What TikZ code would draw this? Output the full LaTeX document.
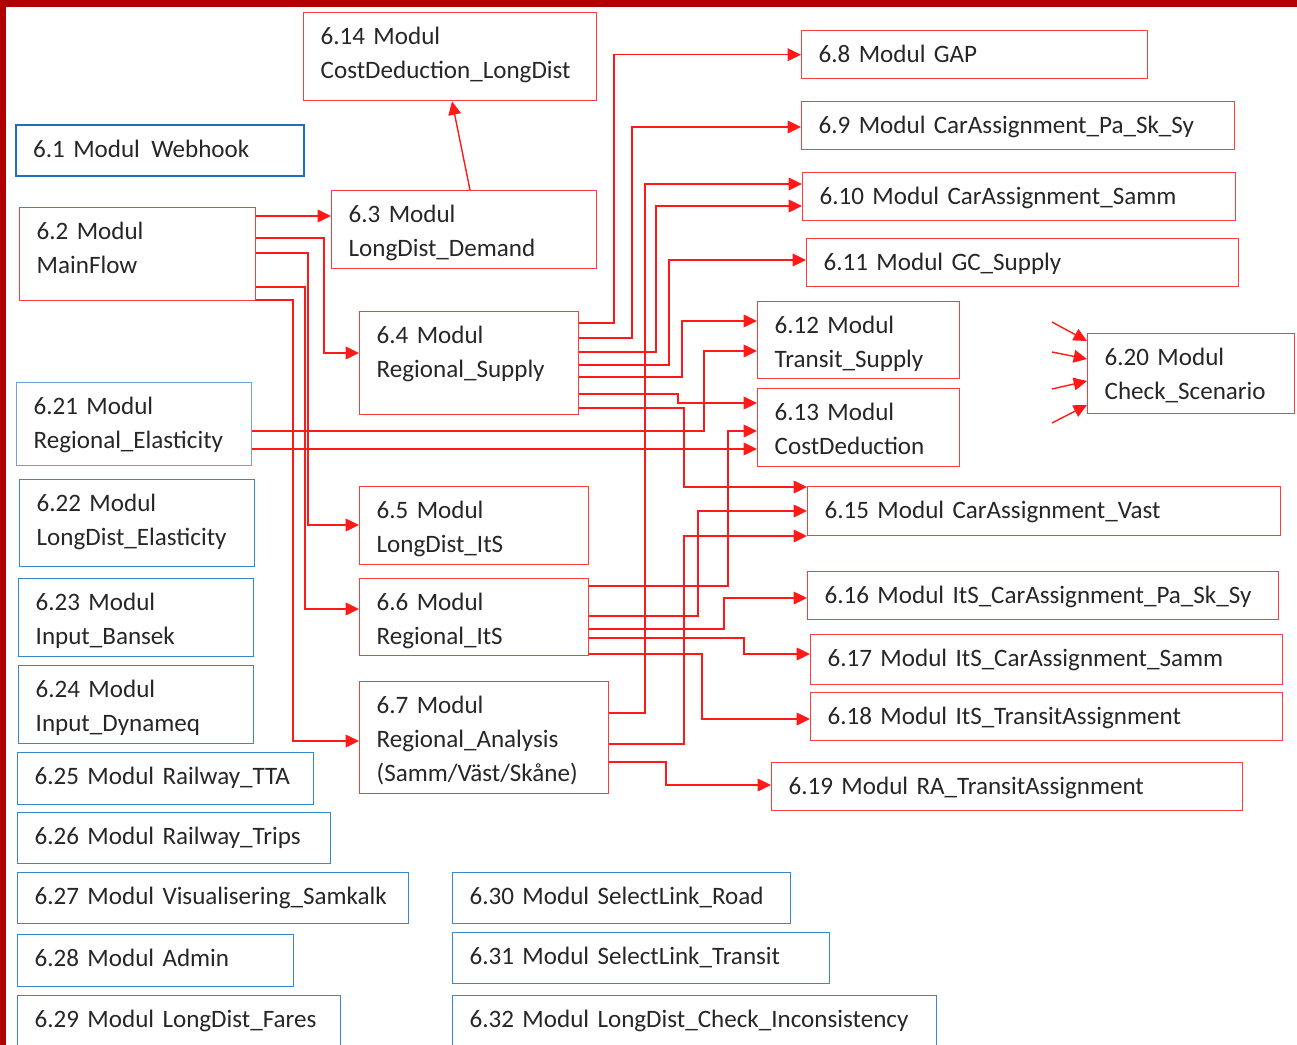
\documentclass[tikz,border=0pt]{standalone}
\usepackage{fontspec}
\setmainfont{Carlito}
\usetikzlibrary{arrows.meta}
\definecolor{frameRed}{RGB}{176,0,0}
\definecolor{boxRed}{RGB}{255,60,60}
\definecolor{lineRed}{RGB}{255,25,25}
\definecolor{boxBlue}{RGB}{30,112,190}
\definecolor{boxBlueMid}{RGB}{55,135,205}
\definecolor{boxBlueLight}{RGB}{105,165,218}
\definecolor{modText}{RGB}{38,38,38}

\begin{document}
\begin{tikzpicture}[x=0.75pt,y=0.75pt,yscale=-1,xscale=1,
	modul/.style={anchor=north west, inner xsep=12.75pt, inner ysep=0pt, text height=24pt, align=left, text=modText, font=\fontsize{18.8}{25.5}\selectfont, line width=1.05pt},
	redbox/.style={modul, draw=boxRed},
	bluebox/.style={modul, draw=boxBlueMid},
	conn/.style={draw=lineRed, line width=1.05pt, -{Triangle[length=10pt,width=9.5pt]}}]
	\clip (0,0) rectangle (1297,1045);
	\fill [frameRed] (0,0) rectangle (1297,7);
	\fill [frameRed] (0,0) rectangle (6,1045);

	% Text Node
	\node [redbox, text width=194.25pt, text depth=42pt] (n614) at (303,12) {6.14 Modul\\CostDeduction\_LongDist};
	% Text Node
	\node [modul, draw=boxBlue, line width=1.8pt, text width=190.5pt, text depth=14.25pt] (n61) at (15,124) {6.1~Modul\hspace{0.45em}Webhook};
	% Text Node
	\node [redbox, text width=151.5pt, text depth=45.75pt] (n62) at (19,207) {6.2 Modul\\MainFlow};
	% Text Node
	\node [redbox, text width=173.25pt, text depth=34.5pt] (n63) at (331,190) {6.3 Modul\\LongDist\_Demand};
	% Text Node
	\node [redbox, text width=138.75pt, text depth=53.25pt] (n64) at (359,311) {6.4 Modul\\Regional\_Supply};
	% Text Node
	\node [redbox, text width=146.25pt, text depth=34.5pt] (n65) at (359,486) {6.5 Modul\\LongDist\_ItS};
	% Text Node
	\node [redbox, text width=146.25pt, text depth=33.75pt] (n66) at (359,578) {6.6 Modul\\Regional\_ItS};
	% Text Node
	\node [redbox, text width=161.25pt, text depth=60pt] (n67) at (359,681) {6.7 Modul\\Regional\_Analysis\\(Samm/Väst/Skåne)};
	% Text Node
	\node [redbox, text width=234pt, text depth=12pt] (n68) at (801,30) {6.8~Modul~GAP};
	% Text Node
	\node [redbox, text width=299.25pt, text depth=12pt] (n69) at (801,101) {6.9~Modul~CarAssignment\_Pa\_Sk\_Sy};
	% Text Node
	\node [redbox, text width=299.25pt, text depth=12pt] (n610) at (802,172) {6.10~Modul~CarAssignment\_Samm};
	% Text Node
	\node [redbox, text width=298.5pt, text depth=12pt] (n611) at (806,238) {6.11~Modul~GC\_Supply};
	% Text Node
	\node [redbox, text width=126pt, text depth=33.75pt] (n612) at (757,301) {6.12 Modul\\Transit\_Supply};
	% Text Node
	\node [redbox, text width=126pt, text depth=34.5pt] (n613) at (757,388) {6.13 Modul\\CostDeduction};
	% Text Node
	\node [redbox, text width=329.25pt, text depth=12.75pt] (n615) at (807,486) {6.15~Modul~CarAssignment\_Vast};
	% Text Node
	\node [redbox, text width=327.75pt, text depth=12pt] (n616) at (807,571) {6.16~Modul~ItS\_CarAssignment\_Pa\_Sk\_Sy};
	% Text Node
	\node [redbox, text width=328.5pt, text depth=13.5pt] (n617) at (810,634) {6.17~Modul~ItS\_CarAssignment\_Samm};
	% Text Node
	\node [redbox, text width=328.5pt, text depth=12pt] (n618) at (810,692) {6.18~Modul~ItS\_TransitAssignment};
	% Text Node
	\node [redbox, text width=327.75pt, text depth=12pt] (n619) at (771,762) {6.19~Modul~RA\_TransitAssignment};
	% Text Node
	\node [redbox, text width=129.75pt, text depth=36pt] (n620) at (1087,333) {6.20 Modul\\Check\_Scenario};
	% Text Node
	\node [modul, draw=boxBlueLight, line width=1pt, text width=150.75pt, text depth=38.25pt] (n621) at (16,382) {6.21 Modul\\Regional\_Elasticity};
	% Text Node
	\node [bluebox, text width=150.75pt, text depth=41.25pt] (n622) at (19,479) {6.22 Modul\\LongDist\_Elasticity};
	% Text Node
	\node [bluebox, text width=150.75pt, text depth=34.5pt] (n623) at (18,578) {6.23 Modul\\Input\_Bansek};
	% Text Node
	\node [bluebox, text width=150.75pt, text depth=34.5pt] (n624) at (18,665) {6.24 Modul\\Input\_Dynameq};
	% Text Node
	\node [bluebox, text width=196.5pt, text depth=15pt] (n625) at (17,752) {6.25~Modul~Railway\_TTA};
	% Text Node
	\node [bluebox, text width=209.25pt, text depth=14.25pt] (n626) at (17,812) {6.26~Modul~Railway\_Trips};
	% Text Node
	\node [bluebox, text width=267.75pt, text depth=14.25pt] (n627) at (17,872) {6.27~Modul~Visualisering\_Samkalk};
	% Text Node
	\node [bluebox, text width=181.5pt, text depth=15pt] (n628) at (17,934) {6.28~Modul~Admin};
	% Text Node
	\node [bluebox, text width=216.75pt, text depth=20pt] (n629) at (17,995) {6.29~Modul~LongDist\_Fares};
	% Text Node
	\node [bluebox, text width=228pt, text depth=14.25pt] (n630) at (452,872) {6.30~Modul~SelectLink\_Road};
	% Text Node
	\node [bluebox, text width=257.25pt, text depth=14.25pt] (n631) at (452,932) {6.31~Modul~SelectLink\_Transit};
	% Text Node
	\node [bluebox, text width=337.5pt, text depth=20pt] (n632) at (452,995) {6.32~Modul~LongDist\_Check\_Inconsistency};

	\coordinate (s1) at (1052,322);
	\coordinate (s2) at (1052,352);
	\coordinate (s3) at (1052,389);
	\coordinate (s4) at (1052,423);

	% Connection
	\draw [conn] (n62.east |- 0,216) -- (n63.west |- 0,216);
	\draw [conn] (n62.east |- 0,238) -- (324,238) |- (n64.west |- 0,353);
	\draw [conn] (n62.east |- 0,253) -- (308,253) |- (n65.west |- 0,525);
	\draw [conn] (n62.east |- 0,287) -- (305,287) |- (n66.west |- 0,609);
	\draw [conn] (n62.east |- 0,300) -- (293,300) |- (n67.west |- 0,741);
	% Connection
	\draw [conn] (n63.north -| 470,0) -- (n614.south -| 452,0);
	% Connection
	\draw [conn] (n64.east |- 0,323) -- (614,323) |- (n68.west);
	\draw [conn] (n64.east |- 0,338) -- (632,338) |- (n69.west |- 0,127);
	\draw [conn] (n64.east |- 0,352) -- (656,352) |- (n610.west |- 0,206);
	\draw [conn] (n64.east |- 0,365) -- (669,365) |- (n611.west |- 0,260);
	\draw [conn] (n64.east |- 0,377) -- (682,377) |- (n612.west |- 0,321);
	\draw [conn] (n64.east |- 0,394) -- (678,394) |- (n613.west |- 0,403);
	\draw [conn] (n64.east |- 0,408) -- (684,408) |- (n615.west |- 0,487);
	% Connection
	\draw [conn] (n621.east |- 0,431) -- (704,431) |- (n612.west |- 0,351);
	\draw [conn] (n621.east |- 0,449) -- (n613.west |- 0,449);
	% Connection
	\draw [conn] (n66.east |- 0,586) -- (728,586) |- (n613.west |- 0,431);
	\draw [conn] (n66.east |- 0,616) -- (698,616) |- (n615.west |- 0,511);
	\draw [conn] (n66.east |- 0,629) -- (724,629) |- (n616.west |- 0,598);
	\draw [conn] (n66.east |- 0,638) -- (744,638) |- (n617.west |- 0,654);
	\draw [conn] (n66.east |- 0,654) -- (702,654) |- (n618.west |- 0,719);
	% Connection
	\draw [conn] (n67.east |- 0,713) -- (645,713) |- (n610.west |- 0,184);
	\draw [conn] (n67.east |- 0,744) -- (684,744) |- (n615.west |- 0,536);
	\draw [conn] (n67.east |- 0,762) -- (666,762) |- (n619.west |- 0,785);
	% Connection
	\draw [conn] (s1) -- (n620.west |- 0,341);
	\draw [conn] (s2) -- (n620.west |- 0,359);
	\draw [conn] (s3) -- (n620.west |- 0,381);
	\draw [conn] (s4) -- (n620.west |- 0,405);

\end{tikzpicture}
\end{document}
